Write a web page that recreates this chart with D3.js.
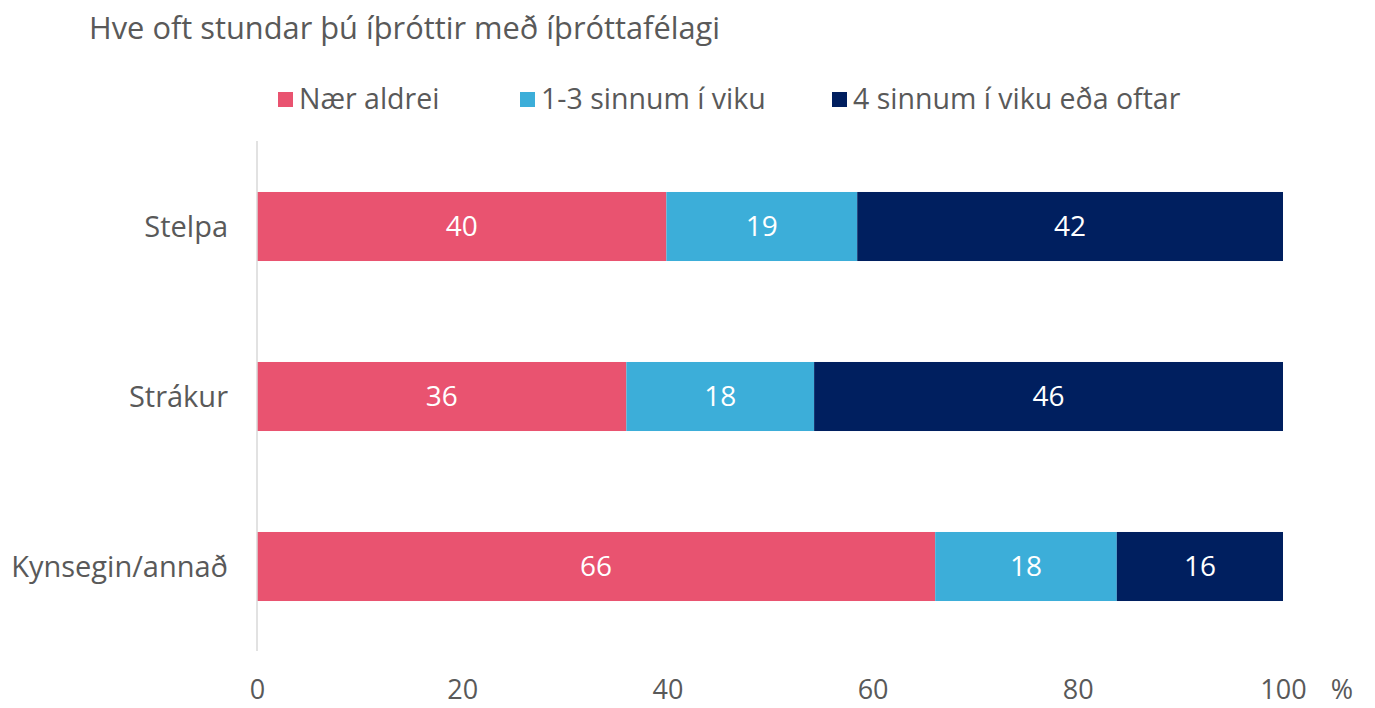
<!DOCTYPE html>
<html>
<head>
<meta charset="utf-8">
<script src="https://cdn.jsdelivr.net/npm/d3@7"></script>
<style>
  body { margin: 0; background: #fff; }
  svg { font-family: "Open Sans", Lato, sans-serif; }
</style>
</head>
<body>
<svg></svg>
<script>
const categories = ['Stelpa', 'Strákur', 'Kynsegin/annað']
const seriesNames = ['Nær aldrei', '1-3 sinnum í viku', '4 sinnum í viku eða oftar']
const naerAldrei = [39.9, 36.0, 66.1]
const einnTilThrju = [18.6, 18.3, 17.7]
const fjorumOftar = [41.5, 45.7, 16.2]
const xTicks = [0, 20, 40, 60, 80, 100]
const colors = ['#e95370', '#3caed9', '#001f5f']
const textColor = '#595959'
const font = '"Open Sans", Lato, sans-serif'

const data = categories.map((c, i) => ({
  cat: c,
  [seriesNames[0]]: naerAldrei[i],
  [seriesNames[1]]: einnTilThrju[i],
  [seriesNames[2]]: fjorumOftar[i]
}))

const svg = d3.select('svg')
const [svgWidth, svgHeight] = [1375, 708]
svg.attr('width', svgWidth).attr('height', svgHeight)

const x = d3.scaleLinear().domain([0, 100]).range([257, 1283])
const y = d3.scaleBand().domain(categories)
  .range([141.5, 651.5])
  .paddingInner(0.594).paddingOuter(0.297)

const color = d3.scaleOrdinal().domain(seriesNames).range(colors)
const stacked = d3.stack().keys(seriesNames)(data)

// title
svg.append('text')
  .attr('x', 89).attr('y', 39)
  .attr('font-size', 30.8)
  .attr('fill', textColor)
  .text('Hve oft stundar þú íþróttir með íþróttafélagi')

// legend
const legendX = [278, 520, 832]
const legend = svg.append('g').selectAll('g').data(seriesNames).enter().append('g')
  .attr('transform', (d, i) => `translate(${legendX[i]}, 92)`)
legend.append('rect')
  .attr('width', 15).attr('height', 15)
  .attr('fill', d => color(d))
legend.append('text')
  .attr('x', 21).attr('y', 7.5)
  .attr('dy', '0.35em')
  .attr('font-size', 28.5)
  .attr('fill', textColor)
  .text(d => d)

// bars
const groups = svg.append('g').selectAll('g').data(stacked).enter().append('g')
  .attr('fill', d => color(d.key))
groups.selectAll('rect').data(d => d).enter().append('rect')
  .attr('x', d => x(d[0]))
  .attr('y', d => y(d.data.cat))
  .attr('width', d => x(d[1]) - x(d[0]))
  .attr('height', y.bandwidth())

// value labels
const fmt = d3.format('.0f')
groups.selectAll('text').data(d => d).enter().append('text')
  .attr('x', d => (x(d[0]) + x(d[1])) / 2)
  .attr('y', d => y(d.data.cat) + y.bandwidth() / 2)
  .attr('dy', '0.35em')
  .attr('text-anchor', 'middle')
  .attr('font-size', 28)
  .attr('fill', '#fff')
  .text(d => fmt(d[1] - d[0]))

// y axis line + category labels
svg.append('line')
  .attr('x1', 257).attr('x2', 257)
  .attr('y1', 141).attr('y2', 651)
  .attr('stroke', '#d9d9d9').attr('stroke-width', 1.5)

svg.append('g').selectAll('text').data(categories).enter().append('text')
  .attr('x', 228)
  .attr('y', d => y(d) + y.bandwidth() / 2)
  .attr('dy', '0.35em')
  .attr('text-anchor', 'end')
  .attr('font-size', 29)
  .attr('fill', textColor)
  .text(d => d)

// x axis
const xAxis = d3.axisBottom(x).tickValues(xTicks).tickSize(0).tickPadding(0)
const xg = svg.append('g').attr('transform', 'translate(0, 680)').call(xAxis)
xg.select('.domain').remove()
xg.selectAll('text')
  .attr('font-size', 27)
  .attr('font-family', font)
  .attr('fill', textColor)
  .attr('dy', '0.35em')
  .attr('y', 10)

svg.append('text')
  .attr('x', 1342).attr('y', 690)
  .attr('dy', '0.35em')
  .attr('text-anchor', 'middle')
  .attr('font-size', 27)
  .attr('fill', textColor)
  .text('%')
</script>
</body>
</html>
